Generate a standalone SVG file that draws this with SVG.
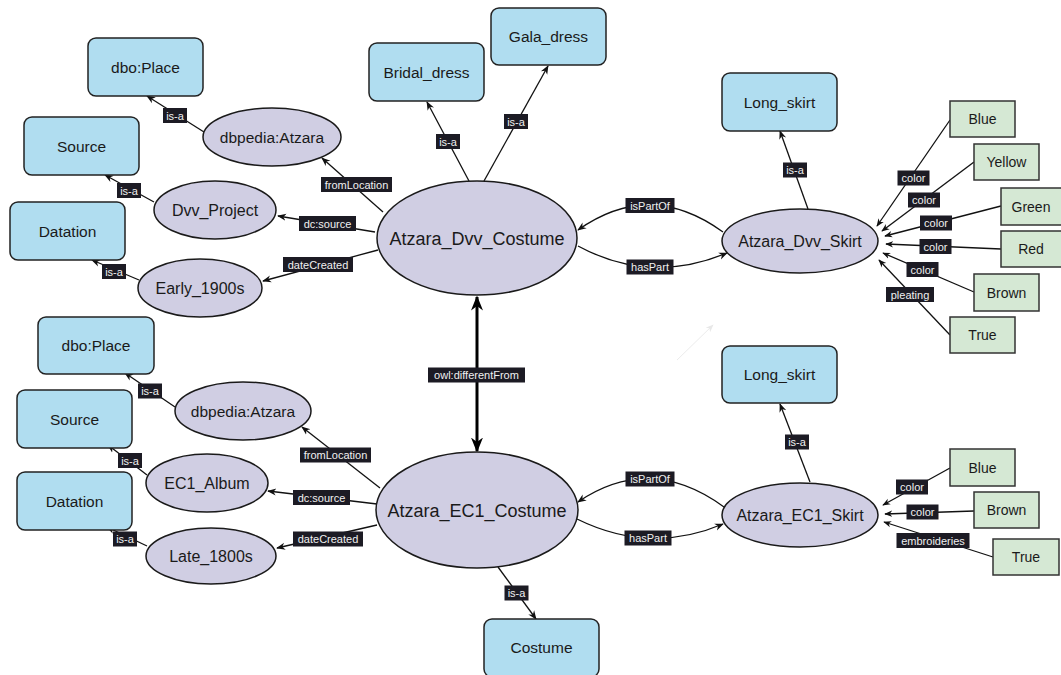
<svg xmlns="http://www.w3.org/2000/svg" width="1061" height="675" viewBox="0 0 1061 675">
<style>
.bx{fill:#b0ddf0;stroke:#222;stroke-width:1.5}
.gb{fill:#d5e8d4;stroke:#333;stroke-width:1.5}
.el{fill:#d0cee3;stroke:#1a1a1a;stroke-width:1.5}
.t{font-family:"Liberation Sans",Arial,sans-serif;font-size:15.5px;fill:#1a1a1a;text-anchor:middle}
.tg{font-family:"Liberation Sans",Arial,sans-serif;font-size:14px;fill:#1a1a1a;text-anchor:middle}
.tk{font-family:"Liberation Sans",Arial,sans-serif;font-size:16px;fill:#1a1a1a;text-anchor:middle}
.tc{font-family:"Liberation Sans",Arial,sans-serif;font-size:18px;fill:#1a1a1a;text-anchor:middle}
.e{fill:none;stroke:#111;stroke-width:1.3;marker-end:url(#arr)}
.lr{fill:#1c1b24}
.lt{font-family:"Liberation Sans",Arial,sans-serif;font-size:11px;fill:#f0f0f0;text-anchor:middle}
</style>
<defs>
<marker id="arr" viewBox="0 0 10 10" refX="9" refY="5" markerWidth="9" markerHeight="9" markerUnits="userSpaceOnUse" orient="auto"><path d="M0,1 L10,5 L0,9 L3,5 z" fill="#111"/></marker>
<marker id="arrS" viewBox="0 0 10 10" refX="9" refY="5" markerWidth="8" markerHeight="8" markerUnits="userSpaceOnUse" orient="auto"><path d="M0,1 L10,5 L0,9 L3,5 z" fill="#111"/></marker>
<marker id="arrT" viewBox="0 0 10 10" refX="9" refY="5" markerWidth="15" markerHeight="15" markerUnits="userSpaceOnUse" orient="auto-start-reverse"><path d="M0,1 L10,5 L0,9 L3,5 z" fill="#000"/></marker>
<marker id="arrF" viewBox="0 0 10 10" refX="9" refY="5" markerWidth="8" markerHeight="8" markerUnits="userSpaceOnUse" orient="auto"><path d="M0,1 L10,5 L0,9 L3,5 z" fill="#e8e8e8"/></marker>
</defs>
<rect width="1061" height="675" fill="#fff"/>
<g id="connectors">
<line class="e" x1="204" y1="132" x2="147" y2="96"/>
<line class="e" x1="383" y1="212" x2="322" y2="158"/>
<line class="e" x1="154" y1="202" x2="105" y2="175"/>
<line class="e" x1="375" y1="232" x2="278" y2="216"/>
<line class="e" x1="139" y1="280" x2="92" y2="260"/>
<line class="e" x1="378" y1="250" x2="263" y2="281"/>
<line class="e" x1="469" y1="181" x2="427" y2="102"/>
<line class="e" x1="484" y1="181" x2="548" y2="66"/>
<path class="e" d="M723,232 Q650,179 578,230"/>
<path class="e" d="M578,246 Q650,285 727,253"/>
<line class="e" x1="808" y1="209" x2="780" y2="131"/>
<line x1="477" y1="297" x2="477" y2="451" stroke="#000" stroke-width="3" marker-start="url(#arrT)" marker-end="url(#arrT)"/>
<line x1="677" y1="360" x2="713" y2="325" stroke="#ececec" stroke-width="1" marker-end="url(#arrF)"/>
<line class="e" style="marker-end:url(#arrS)" x1="950" y1="120" x2="877" y2="226"/>
<line class="e" style="marker-end:url(#arrS)" x1="974" y1="162" x2="882" y2="231"/>
<line class="e" style="marker-end:url(#arrS)" x1="1001" y1="206" x2="885" y2="236"/>
<line class="e" style="marker-end:url(#arrS)" x1="1001" y1="249" x2="886" y2="244"/>
<line class="e" style="marker-end:url(#arrS)" x1="974" y1="292" x2="883" y2="253"/>
<line class="e" style="marker-end:url(#arrS)" x1="950" y1="335" x2="879" y2="260"/>
<line class="e" x1="175" y1="407" x2="125" y2="373"/>
<line class="e" x1="380" y1="488" x2="302" y2="427"/>
<line class="e" x1="147" y1="475" x2="108" y2="445"/>
<line class="e" x1="377" y1="504" x2="268" y2="491"/>
<line class="e" x1="147" y1="546" x2="107" y2="527"/>
<line class="e" x1="377" y1="525" x2="277" y2="548"/>
<path class="e" d="M724,507 Q650,453 578,502"/>
<path class="e" d="M577,519 Q650,555 723,524"/>
<line class="e" x1="498" y1="567" x2="536" y2="619"/>
<line class="e" x1="810" y1="482" x2="780" y2="404"/>
<line class="e" style="marker-end:url(#arrS)" x1="950" y1="468" x2="883" y2="505"/>
<line class="e" style="marker-end:url(#arrS)" x1="974" y1="511" x2="885" y2="514"/>
<line class="e" style="marker-end:url(#arrS)" x1="993" y1="557" x2="884" y2="522"/>
<g id="edge-labels">
<rect class="lr" x="163" y="108" width="24" height="15"/><text class="lt" x="175" y="119.5">is-a</text>
<rect class="lr" x="321" y="177" width="71" height="15"/><text class="lt" x="356.5" y="188.5">fromLocation</text>
<rect class="lr" x="117" y="183" width="24" height="15"/><text class="lt" x="129" y="194.5">is-a</text>
<rect class="lr" x="299" y="216" width="57" height="15"/><text class="lt" x="327.5" y="227.5">dc:source</text>
<rect class="lr" x="102" y="264" width="24" height="15"/><text class="lt" x="114" y="275.5">is-a</text>
<rect class="lr" x="283" y="257" width="70" height="15"/><text class="lt" x="318" y="268.5">dateCreated</text>
<rect class="lr" x="436" y="134" width="24" height="15"/><text class="lt" x="448" y="145.5">is-a</text>
<rect class="lr" x="504" y="114" width="24" height="15"/><text class="lt" x="516" y="125.5">is-a</text>
<rect class="lr" x="625.5" y="198" width="49" height="15"/><text class="lt" x="650" y="209.5">isPartOf</text>
<rect class="lr" x="626.5" y="259.5" width="47" height="15"/><text class="lt" x="650" y="271">hasPart</text>
<rect class="lr" x="783" y="162.5" width="24" height="15"/><text class="lt" x="795" y="174">is-a</text>
<rect class="lr" x="428" y="367.5" width="97" height="15"/><text class="lt" x="476.5" y="379">owl:differentFrom</text>
<rect class="lr" x="897.5" y="170.5" width="32" height="15"/><text class="lt" x="913.5" y="182">color</text>
<rect class="lr" x="908" y="192.5" width="32" height="15"/><text class="lt" x="924" y="204">color</text>
<rect class="lr" x="920" y="215.5" width="32" height="15"/><text class="lt" x="936" y="227">color</text>
<rect class="lr" x="919.5" y="239" width="32" height="15"/><text class="lt" x="935.5" y="250.5">color</text>
<rect class="lr" x="906.5" y="262" width="32" height="15"/><text class="lt" x="922.5" y="273.5">color</text>
<rect class="lr" x="886" y="287" width="48" height="15"/><text class="lt" x="910" y="298.5">pleating</text>
<rect class="lr" x="138" y="383.5" width="24" height="15"/><text class="lt" x="150" y="395">is-a</text>
<rect class="lr" x="300" y="447.5" width="71" height="15"/><text class="lt" x="335.5" y="459">fromLocation</text>
<rect class="lr" x="118" y="453" width="24" height="15"/><text class="lt" x="130" y="464.5">is-a</text>
<rect class="lr" x="293" y="490" width="57" height="15"/><text class="lt" x="321.5" y="501.5">dc:source</text>
<rect class="lr" x="113" y="531.5" width="24" height="15"/><text class="lt" x="125" y="543">is-a</text>
<rect class="lr" x="293" y="531.5" width="70" height="15"/><text class="lt" x="328" y="543">dateCreated</text>
<rect class="lr" x="625.5" y="471.5" width="49" height="15"/><text class="lt" x="650" y="483">isPartOf</text>
<rect class="lr" x="624.5" y="530.5" width="47" height="15"/><text class="lt" x="648" y="542">hasPart</text>
<rect class="lr" x="504.5" y="585.5" width="24" height="15"/><text class="lt" x="516.5" y="597">is-a</text>
<rect class="lr" x="785" y="434.5" width="24" height="15"/><text class="lt" x="797" y="446">is-a</text>
<rect class="lr" x="896" y="479.5" width="32" height="15"/><text class="lt" x="912" y="491">color</text>
<rect class="lr" x="906.5" y="504.5" width="32" height="15"/><text class="lt" x="922.5" y="516">color</text>
<rect class="lr" x="896.5" y="533" width="73" height="15"/><text class="lt" x="933" y="544.5">embroideries</text>
</g>
</g>
<g id="dbo-place-1"><rect class="bx" x="88" y="38" width="115" height="58" rx="8"/><text class="t" x="145.5" y="72.5">dbo:Place</text></g>
<g id="source-1"><rect class="bx" x="24" y="117" width="115" height="58" rx="8"/><text class="t" x="81.5" y="151.5">Source</text></g>
<g id="datation-1"><rect class="bx" x="10" y="202" width="115" height="58" rx="8"/><text class="t" x="67.5" y="236.5">Datation</text></g>
<g id="dbpedia-atzara-1"><ellipse class="el" cx="272" cy="137" rx="69" ry="29"/><text class="t" x="272" y="142.5">dbpedia:Atzara</text></g>
<g id="dvv-project"><ellipse class="el" cx="215" cy="210" rx="61" ry="29"/><text class="tk" x="215" y="216">Dvv_Project</text></g>
<g id="early-1900s"><ellipse class="el" cx="200" cy="288" rx="62" ry="29"/><text class="tk" x="200" y="294">Early_1900s</text></g>
<g id="bridal-dress"><rect class="bx" x="369" y="43" width="115" height="58" rx="8"/><text class="t" x="426.5" y="77.5">Bridal_dress</text></g>
<g id="gala-dress"><rect class="bx" x="491" y="8" width="115" height="57" rx="8"/><text class="t" x="548.5" y="42">Gala_dress</text></g>
<g id="atzara-dvv-costume"><ellipse class="el" cx="477" cy="238" rx="100" ry="57"/><text class="tc" x="477" y="244.5">Atzara_Dvv_Costume</text></g>
<g id="long-skirt-1"><rect class="bx" x="722" y="73" width="115" height="58" rx="8"/><text class="t" x="779.5" y="107.5">Long_skirt</text></g>
<g id="atzara-dvv-skirt"><ellipse class="el" cx="800" cy="241" rx="78" ry="32"/><text class="tk" x="800" y="247">Atzara_Dvv_Skirt</text></g>
<g id="blue-1"><rect class="gb" x="950" y="101" width="65" height="36"/><text class="tg" x="982.5" y="124">Blue</text></g>
<g id="yellow"><rect class="gb" x="974" y="144" width="65" height="36"/><text class="tg" x="1006.5" y="167">Yellow</text></g>
<g id="green"><rect class="gb" x="1001" y="188" width="62" height="37"/><text class="tg" x="1031" y="211.5">Green</text></g>
<g id="red"><rect class="gb" x="1001" y="231" width="62" height="36"/><text class="tg" x="1031" y="254">Red</text></g>
<g id="brown-1"><rect class="gb" x="974" y="274" width="65" height="37"/><text class="tg" x="1006.5" y="297.5">Brown</text></g>
<g id="true-1"><rect class="gb" x="950" y="317" width="65" height="36"/><text class="tg" x="982.5" y="340">True</text></g>
<g id="dbo-place-2"><rect class="bx" x="38" y="317" width="116" height="57" rx="8"/><text class="t" x="96" y="351">dbo:Place</text></g>
<g id="source-2"><rect class="bx" x="17" y="390" width="115" height="58" rx="8"/><text class="t" x="74.5" y="424.5">Source</text></g>
<g id="datation-2"><rect class="bx" x="17" y="472" width="115" height="58" rx="8"/><text class="t" x="74.5" y="506.5">Datation</text></g>
<g id="dbpedia-atzara-2"><ellipse class="el" cx="243" cy="411" rx="68" ry="29"/><text class="t" x="243" y="416.5">dbpedia:Atzara</text></g>
<g id="ec1-album"><ellipse class="el" cx="207" cy="483" rx="61" ry="29"/><text class="tk" x="207" y="489">EC1_Album</text></g>
<g id="late-1800s"><ellipse class="el" cx="211" cy="556" rx="65" ry="28"/><text class="tk" x="211" y="562">Late_1800s</text></g>
<g id="atzara-ec1-costume"><ellipse class="el" cx="477" cy="510" rx="101" ry="58"/><text class="tc" x="477" y="516.5">Atzara_EC1_Costume</text></g>
<g id="costume"><rect class="bx" x="484" y="619" width="115" height="58" rx="8"/><text class="t" x="541.5" y="652.5">Costume</text></g>
<g id="long-skirt-2"><rect class="bx" x="722" y="346" width="115" height="57" rx="8"/><text class="t" x="779.5" y="380">Long_skirt</text></g>
<g id="atzara-ec1-skirt"><ellipse class="el" cx="800" cy="515" rx="78" ry="32"/><text class="tk" x="800" y="521">Atzara_EC1_Skirt</text></g>
<g id="blue-2"><rect class="gb" x="950" y="449" width="65" height="37"/><text class="tg" x="982.5" y="472.5">Blue</text></g>
<g id="brown-2"><rect class="gb" x="974" y="492" width="65" height="36"/><text class="tg" x="1006.5" y="515">Brown</text></g>
<g id="true-2"><rect class="gb" x="993" y="539" width="66" height="36"/><text class="tg" x="1026" y="562">True</text></g>
</svg>
